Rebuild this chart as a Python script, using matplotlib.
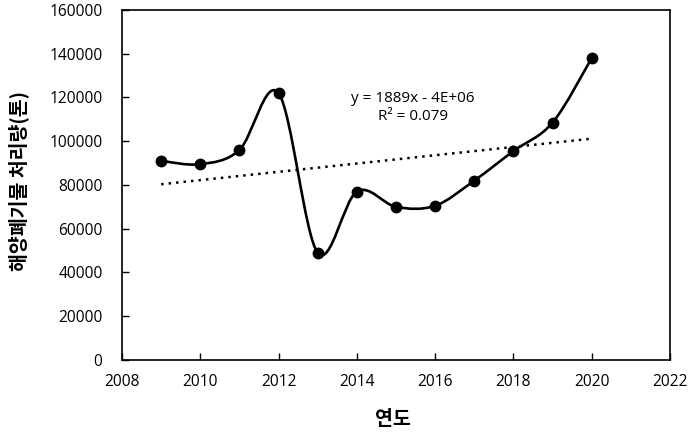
import numpy as np
import matplotlib
matplotlib.use("Agg")
import matplotlib.pyplot as plt
from matplotlib.path import Path
from matplotlib.patches import PathPatch

plt.rcParams["font.family"] = ["Open Sans", "Noto Sans CJK KR", "DejaVu Sans"]

# Data
years = [2009, 2010, 2011, 2012, 2013, 2014, 2015, 2016, 2017, 2018, 2019, 2020]
tonnage = [91000, 89500, 96000, 122000, 49000, 77000, 70000, 70500, 82000, 95500, 108500, 138000]
x_ticks = [2008, 2010, 2012, 2014, 2016, 2018, 2020, 2022]
y_ticks = [0, 20000, 40000, 60000, 80000, 100000, 120000, 140000, 160000]


def smooth_path(xs, ys):
    # Excel-style smoothed line: cubic Bezier segments through each point
    pts = np.column_stack([xs, ys]).astype(float)
    padded = np.vstack([pts[0], pts, pts[-1]])
    verts = [pts[0]]
    codes = [Path.MOVETO]
    for i in range(len(pts) - 1):
        p0, p1, p2, p3 = padded[i], padded[i + 1], padded[i + 2], padded[i + 3]
        c1 = p1 + (p2 - p0) / 6.0
        c2 = p2 - (p3 - p1) / 6.0
        verts += [c1, c2, p2]
        codes += [Path.CURVE4] * 3
    return Path(verts, codes)


fig = plt.figure(figsize=(6.9, 4.33), dpi=100)
ax = fig.add_axes([0.1768, 0.1686, 0.7942, 0.8084])

ax.add_patch(PathPatch(smooth_path(years, tonnage), fill=False, edgecolor="black", lw=1.9, zorder=3))
ax.plot(years, tonnage, "o", color="black", markersize=7.5, zorder=4)

# Linear trend line
slope, intercept = np.polyfit(years, tonnage, 1)
fit = np.polyval([slope, intercept], years)
ax.plot([years[0], years[-1]], [fit[0], fit[-1]], color="black", lw=1.8, linestyle=(0, (1, 2)), zorder=2)

ax.text(2015.43, 115500, "y = 1889x - 4E+06\nR² = 0.079", ha="center", va="center",
        fontsize=11, linespacing=1.3)

ax.set_xlim(2008, 2022)
ax.set_ylim(0, 160000)
ax.set_xticks(x_ticks)
ax.set_yticks(y_ticks)
ax.tick_params(direction="in", length=5, width=1, labelsize=11.2)
ax.tick_params(axis="x", pad=10)
ax.tick_params(axis="y", pad=14)
for s in ax.spines.values():
    s.set_linewidth(1.2)

ax.set_xlabel("연도", fontsize=14, fontweight="bold", family=["Noto Sans CJK KR"])
ax.set_ylabel("해양폐기물 처리량(톤)", fontsize=14, fontweight="bold", family=["Noto Sans CJK KR"])
ax.xaxis.set_label_coords(0.494, -0.142)
ax.yaxis.set_label_coords(-0.17, 0.51)

fig.savefig("out.png", dpi=100)
